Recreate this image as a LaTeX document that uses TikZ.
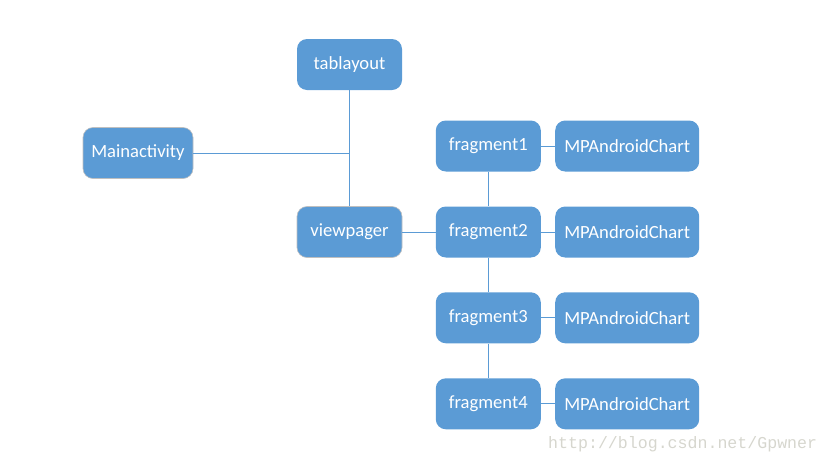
\documentclass[tikz,border=0pt]{standalone}
\usepackage{fontspec}
\setmainfont{Carlito}
\newfontfamily\markfont{Liberation Mono}
\usepackage{xcolor}
\usepackage{tikz}
\usetikzlibrary{positioning}
\definecolor{boxblue}{HTML}{5B9BD5}
\definecolor{markgray}{HTML}{D6D6CE}

\begin{document}
\begin{tikzpicture}[x=1pt,y=-1pt,
    box/.style={rectangle,rounded corners=10pt,fill=boxblue,text=white,
      font=\fontsize{18.6}{22}\selectfont,minimum width=105pt,minimum height=51pt,inner sep=0pt},
    outlined/.style={draw=black!25,line width=0.6pt},
    chart/.style={box,minimum width=144pt},
    link/.style={draw=boxblue,line width=1pt}]
    \useasboundingbox (0,0) rectangle (830,464);
    \node[box,outlined,minimum width=110pt] (main) at (138,153) {Mainactivity};
    \node[box] (tab) at (349.5,64.5) {tablayout};
    \node[box,outlined] (view) at (349.5,232) {viewpager};
    \node[box] (frag1) at (488.3,146) {fragment1};
    \node[box] (frag2) at (488.3,232) {fragment2};
    \node[box] (frag3) at (488.3,317.8) {fragment3};
    \node[box] (frag4) at (488.3,403.8) {fragment4};
    \node[chart,right=14pt of frag1] (chart1) {MPAndroidChart};
    \node[chart,right=14pt of frag2] (chart2) {MPAndroidChart};
    \node[chart,right=14pt of frag3] (chart3) {MPAndroidChart};
    \node[chart,right=14pt of frag4] (chart4) {MPAndroidChart};
    \node[font=\markfont\fontsize{16.6}{20}\selectfont,text=markgray,anchor=west,inner sep=0pt]
      (mark) at (548,444) {http://blog.csdn.net/Gpwner};
    % connectors
    \draw[link] (tab) -- (view);
    \draw[link] (main) -- (main -| tab);
    \draw[link] (view) -- (frag2);
    \draw[link] (frag1) -- (frag2);
    \draw[link] (frag2) -- (frag3);
    \draw[link] (frag3) -- (frag4);
    \draw[link] (frag1) -- (chart1);
    \draw[link] (frag2) -- (chart2);
    \draw[link] (frag3) -- (chart3);
    \draw[link] (frag4) -- (chart4);
\end{tikzpicture}
\end{document}
